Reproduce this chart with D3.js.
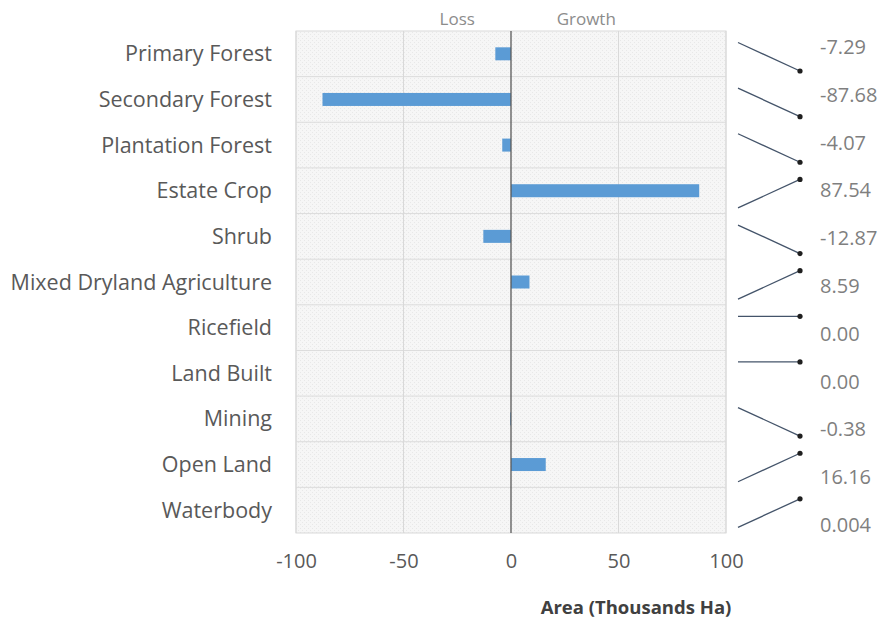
<!DOCTYPE html>
<html>
<head>
    <script src="https://cdnjs.cloudflare.com/ajax/libs/d3/7.8.5/d3.min.js"></script>
    <style>
        body { margin: 0; background: #fff; }
        text { font-family: "Open Sans", sans-serif; }
    </style>
</head>
<body>
    <div id="chart"></div>
    <script>
        const width = 886, height = 624;

        // data
        const categories = ["Primary Forest", "Secondary Forest", "Plantation Forest", "Estate Crop", "Shrub",
            "Mixed Dryland Agriculture", "Ricefield", "Land Built", "Mining", "Open Land", "Waterbody"];
        const changes = [-7.29, -87.68, -4.07, 87.54, -12.87, 8.59, 0, 0, -0.38, 16.16, 0.004];
        const xTicks = [-100, -50, 0, 50, 100];

        const plot = { left: 296, right: 726, top: 31, bottom: 533 };

        const svg = d3.select("#chart").append("svg").attr("width", width).attr("height", height);

        const x = d3.scaleLinear().domain([-100, 100]).range([plot.left, plot.right]);
        const y = d3.scaleBand().domain(categories).range([plot.top, plot.bottom]);
        const labelY = d3.scalePoint().domain(categories).range([47, 525]);

        // light dotted fill of the plot area
        const defs = svg.append("defs");
        const pat = defs.append("pattern").attr("id", "dots")
            .attr("width", 4).attr("height", 4).attr("patternUnits", "userSpaceOnUse");
        pat.append("rect").attr("width", 4).attr("height", 4).attr("fill", "#f6f6f6");
        pat.append("rect").attr("width", 1).attr("height", 1).attr("fill", "#e8e8e8");
        pat.append("rect").attr("x", 2).attr("y", 2).attr("width", 1).attr("height", 1).attr("fill", "#e8e8e8");

        svg.append("rect")
            .attr("x", plot.left).attr("y", plot.top)
            .attr("width", plot.right - plot.left).attr("height", plot.bottom - plot.top)
            .attr("fill", "url(#dots)")
            .attr("stroke", "#d9d9d9");

        // row separators
        svg.append("g").selectAll("line")
            .data(categories.slice(1))
            .join("line")
            .attr("x1", plot.left).attr("x2", plot.right)
            .attr("y1", d => y(d)).attr("y2", d => y(d))
            .attr("stroke", "#dcdcdc");

        // vertical grid
        svg.append("g").selectAll("line")
            .data(xTicks.filter(t => t !== 0))
            .join("line")
            .attr("x1", d => x(d)).attr("x2", d => x(d))
            .attr("y1", plot.top).attr("y2", plot.bottom)
            .attr("stroke", "#d9d9d9");

        // bars
        const barH = 13;
        svg.append("g").selectAll("rect")
            .data(categories)
            .join("rect")
            .attr("x", (d, i) => x(Math.min(0, changes[i])))
            .attr("y", d => y(d) + y.bandwidth() / 2 - barH / 2)
            .attr("width", (d, i) => Math.abs(x(changes[i]) - x(0)))
            .attr("height", barH)
            .attr("fill", "#5b9bd5");

        // zero line
        svg.append("line")
            .attr("x1", x(0)).attr("x2", x(0))
            .attr("y1", plot.top).attr("y2", plot.bottom)
            .attr("stroke", "#595959").attr("stroke-width", 1.3);

        // category labels
        svg.append("g").selectAll("text")
            .data(categories)
            .join("text")
            .attr("x", 272)
            .attr("y", d => y(d) + y.bandwidth() / 2)
            .attr("dy", "0.35em")
            .attr("text-anchor", "end")
            .attr("font-size", 21.5)
            .attr("fill", "#595959")
            .text(d => d);

        // x axis
        const xAxis = svg.append("g")
            .attr("transform", `translate(0,${plot.bottom})`)
            .call(d3.axisBottom(x).tickValues(xTicks).tickSize(0).tickPadding(21)
                .tickFormat(d => String(d)));
        xAxis.select(".domain").remove();
        xAxis.selectAll("text")
            .attr("font-size", 20)
            .attr("fill", "#595959")
            .style("font-family", "'Open Sans', sans-serif");

        svg.append("text")
            .attr("x", 636).attr("y", 614)
            .attr("text-anchor", "middle")
            .attr("font-size", 18.5)
            .attr("font-weight", "bold")
            .attr("fill", "#404040")
            .text("Area (Thousands Ha)");

        // loss / growth header
        svg.append("text")
            .attr("x", x(-25)).attr("y", 25)
            .attr("text-anchor", "middle")
            .attr("font-size", 17).attr("fill", "#8c8c8c")
            .text("Loss");
        svg.append("text")
            .attr("x", x(35)).attr("y", 25)
            .attr("text-anchor", "middle")
            .attr("font-size", 17).attr("fill", "#8c8c8c")
            .text("Growth");

        // direction markers on the right
        const topOff = 11.5, botOff = 40;
        const mark = svg.append("g").selectAll("g")
            .data(categories)
            .join("g");

        const yStart = (d, i) => y(d) + (changes[i] > 0 ? botOff : topOff);
        const yEnd = (d, i) => y(d) + (changes[i] < 0 ? botOff : topOff);

        mark.append("line")
            .attr("x1", 738).attr("x2", 800)
            .attr("y1", yStart)
            .attr("y2", yEnd)
            .attr("stroke", "#44546a").attr("stroke-width", 1.3);

        mark.append("circle")
            .attr("cx", 800)
            .attr("cy", yEnd)
            .attr("r", 2.6)
            .attr("fill", "#1f1f1f");

        const fmt = v => (v !== 0 && Math.abs(v) < 0.01) ? d3.format(".3f")(v) : d3.format(".2f")(v).replace("−", "-");

        mark.append("text")
            .attr("x", 820)
            .attr("y", d => labelY(d))
            .attr("dy", "0.35em")
            .attr("font-size", 20)
            .attr("fill", "#7f7f7f")
            .text((d, i) => fmt(changes[i]));
    </script>
</body>
</html>
